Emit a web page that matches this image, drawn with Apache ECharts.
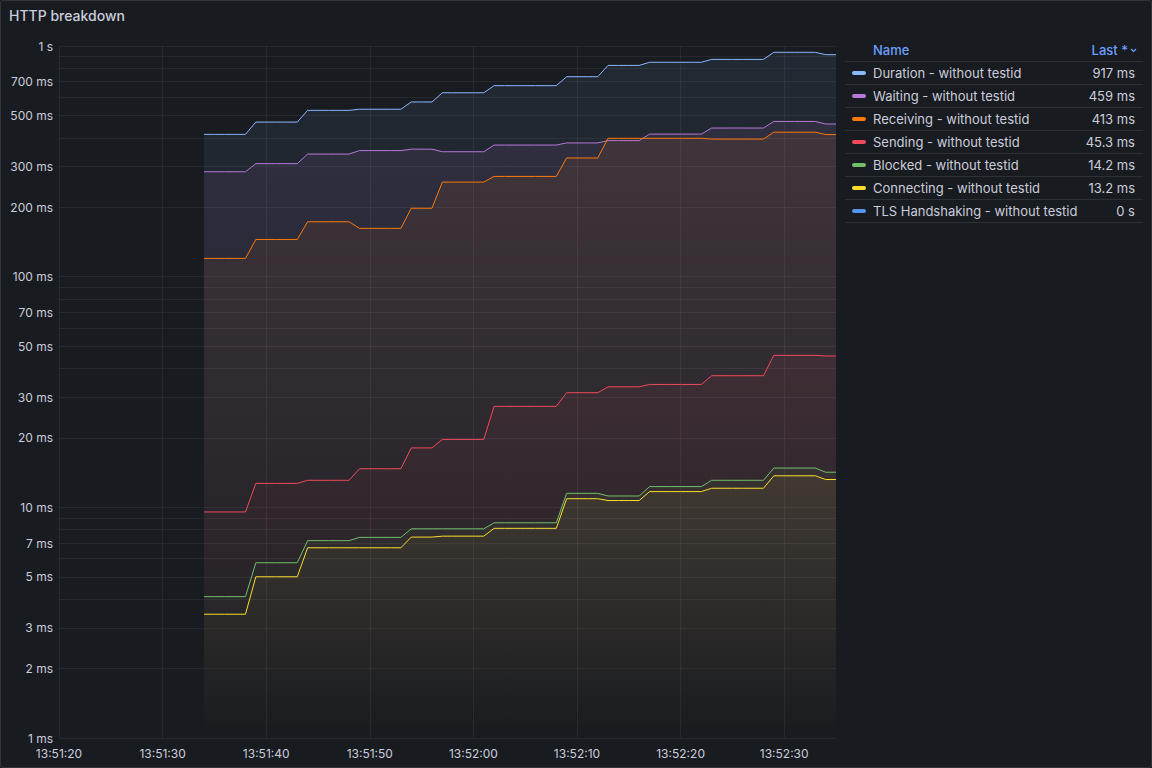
<!DOCTYPE html>
<html>
<head>
<meta charset="utf-8">
<script src="https://cdn.jsdelivr.net/npm/echarts@6/dist/echarts.min.js"></script>
<style>
html,body{margin:0;padding:0;background:#111217;}
#c{width:1152px;height:768px;}
</style>
</head>
<body>
<div id="c"></div>
<script>
// ---------- data ----------
const times = [
  '13:51:34','13:51:35','13:51:36','13:51:37','13:51:38','13:51:39','13:51:40','13:51:41','13:51:42','13:51:43',
  '13:51:44','13:51:45','13:51:46','13:51:47','13:51:48','13:51:49','13:51:50','13:51:51','13:51:52','13:51:53',
  '13:51:54','13:51:55','13:51:56','13:51:57','13:51:58','13:51:59','13:52:00','13:52:01','13:52:02','13:52:03',
  '13:52:04','13:52:05','13:52:06','13:52:07','13:52:08','13:52:09','13:52:10','13:52:11','13:52:12','13:52:13',
  '13:52:14','13:52:15','13:52:16','13:52:17','13:52:18','13:52:19','13:52:20','13:52:21','13:52:22','13:52:23',
  '13:52:24','13:52:25','13:52:26','13:52:27','13:52:28','13:52:29','13:52:30','13:52:31','13:52:32','13:52:33',
  '13:52:34','13:52:35'
];
const seriesNames = [
  'Duration - without testid','Waiting - without testid','Receiving - without testid',
  'Sending - without testid','Blocked - without testid','Connecting - without testid',
  'TLS Handshaking - without testid'
];
// values in ms
const durationValues = [
  414,414,414,414,414, 468,468,468,468,468, 526,526,526,526,526, 532,532,532,532,532,
  572,572,572, 627,627,627,627,627, 673,673,673,673,673,673,673, 736,736,736,736,
  824,824,824,824, 850,850,850,850,850,850, 875,875,875,875,875,875, 939,939,939,939,939, 917,917
];
const waitingValues = [
  285,285,285,285,285, 309,309,309,309,309, 340,340,340,340,340, 352,352,352,352,352,
  357,357,357, 348,348,348,348,348, 372,372,372,372,372,372,372, 380,380,380,380,
  389,389,389,389, 415,415,415,415,415,415, 441,441,441,441,441,441, 471,471,471,471,471, 459,459
];
const receivingValues = [
  120,120,120,120,120, 145,145,145,145,145, 173,173,173,173,173, 162,162,162,162,162,
  198,198,198, 257,257,257,257,257, 272,272,272,272,272,272,272, 327,327,327,327,
  398,398,398,398, 398,398,398,398,398,398, 395,395,395,395,395,395, 423,423,423,423,423, 413,413
];
const sendingValues = [
  9.55,9.55,9.55,9.55,9.55, 12.7,12.7,12.7,12.7,12.7, 13.1,13.1,13.1,13.1,13.1, 14.7,14.7,14.7,14.7,14.7,
  18.1,18.1,18.1, 19.7,19.7,19.7,19.7,19.7, 27.4,27.4,27.4,27.4,27.4,27.4,27.4, 31.4,31.4,31.4,31.4,
  33.3,33.3,33.3,33.3, 34.1,34.1,34.1,34.1,34.1,34.1, 37.2,37.2,37.2,37.2,37.2,37.2, 45.6,45.6,45.6,45.6,45.6, 45.3,45.3
];
const blockedValues = [
  4.10,4.10,4.10,4.10,4.10, 5.75,5.75,5.75,5.75,5.75, 7.17,7.17,7.17,7.17,7.17, 7.41,7.41,7.41,7.41,7.41,
  8.07,8.07,8.07, 8.07,8.07,8.07,8.07,8.07, 8.57,8.57,8.57,8.57,8.57,8.57,8.57, 11.5,11.5,11.5,11.5,
  11.2,11.2,11.2,11.2, 12.3,12.3,12.3,12.3,12.3,12.3, 13.1,13.1,13.1,13.1,13.1,13.1, 14.8,14.8,14.8,14.8,14.8, 14.2,14.2
];
const connectingValues = [
  3.44,3.44,3.44,3.44,3.44, 5.00,5.00,5.00,5.00,5.00, 6.68,6.68,6.68,6.68,6.68, 6.68,6.68,6.68,6.68,6.68,
  7.43,7.43,7.43, 7.50,7.50,7.50,7.50,7.50, 8.11,8.11,8.11,8.11,8.11,8.11,8.11, 10.9,10.9,10.9,10.9,
  10.7,10.7,10.7,10.7, 11.7,11.7,11.7,11.7,11.7,11.7, 12.1,12.1,12.1,12.1,12.1,12.1, 13.7,13.7,13.7,13.7,13.7, 13.2,13.2
];
const tlsValues = [
  0,0,0,0,0, 0,0,0,0,0, 0,0,0,0,0, 0,0,0,0,0, 0,0,0, 0,0,0,0,0, 0,0,0,0,0,0,0, 0,0,0,0,
  0,0,0,0, 0,0,0,0,0,0, 0,0,0,0,0,0, 0,0,0,0,0, 0,0
];
const xRange = ['13:51:20','13:52:35'];
const xTickLabels = ['13:51:20','13:51:30','13:51:40','13:51:50','13:52:00','13:52:10','13:52:20','13:52:30'];
const yRange = [1, 1000];
const yLabelValues = [1,2,3,5,7,10,20,30,50,70,100,200,300,500,700,1000];
const yGridValues = [1,2,3,4,5,6,7,8,9,10,20,30,40,50,60,70,80,90,100,200,300,400,500,600,700,800,900,1000];
const legendHeader = ['Name','Last *'];
const panelTitle = 'HTTP breakdown';

// ---------- styles ----------
const seriesColors = ['#8ab8ff','#b877d9','#ff780a','#f2495c','#73bf69','#fade2a','#5794f2'];
const fillAlpha = [0.13,0.13,0.12,0.1,0.08,0.07,0.1];
const allValues = [durationValues,waitingValues,receivingValues,sendingValues,blockedValues,connectingValues,tlsValues];
const textColor = '#ccccdc';
const gridColor = 'rgba(204,204,220,0.08)';
const FONT = 'Inter, "Noto Sans", sans-serif';

function toSec(s){const p=s.split(':').map(Number);return p[0]*3600+p[1]*60+p[2];}
function pad(n){return (n<10?'0':'')+n;}
function secToStr(v){v=Math.round(v);return pad(Math.floor(v/3600))+':'+pad(Math.floor(v%3600/60))+':'+pad(v%60);}
function rgba(hex,a){const n=parseInt(hex.slice(1),16);return 'rgba('+(n>>16&255)+','+(n>>8&255)+','+(n&255)+','+a+')';}
function fmtMs(v){
  if(v===0) return '0 s';
  if(v>=1000) return (+(v/1000).toPrecision(3))+' s';
  return (+v.toPrecision(3))+' ms';
}
function axisFmt(v){
  if(v>=1000) return (v/1000)+' s';
  return v+' ms';
}

const chart = echarts.init(document.getElementById('c'), null, {renderer:'svg', width:1152, height:768});

// a log axis cannot show zero values, so only series with positive values get a line
const series = [];
allValues.forEach((vals,i)=>{
  if(!vals.some(v=>v>0)) return;
  series.push({
    name: seriesNames[i],
    type: 'line',
    xAxisIndex: 0,
    yAxisIndex: 0,
    showSymbol: false,
    symbol: 'none',
    clip: false,
    data: times.map((t,k)=>[toSec(t), vals[k]]),
    lineStyle: {color: seriesColors[i], width: 1},
    itemStyle: {color: seriesColors[i]},
    areaStyle: {
      origin: 'start',
      color: new echarts.graphic.LinearGradient(0,0,0,1,[
        {offset:0,color:rgba(seriesColors[i],fillAlpha[i])},
        {offset:1,color:rgba(seriesColors[i],0)}
      ])
    },
    emphasis: {disabled: true},
    silent: true,
    z: 2 + i
  });
});

// legend table built with graphics
const graphics = [];
graphics.push({type:'rect', shape:{x:0.5,y:0.5,width:1151,height:767,r:2}, style:{fill:'none',stroke:'rgba(204,204,220,0.15)',lineWidth:1}, silent:true});
const tblLeft = 845, tblRight = 1143;
graphics.push({type:'text', style:{text:legendHeader[0], x:873, y:50, fill:'#6e9fff', font:'500 13px '+FONT, verticalAlign:'middle', textAlign:'left'}});
graphics.push({type:'text', style:{text:legendHeader[1], x:1128, y:50, fill:'#6e9fff', font:'500 13px '+FONT, verticalAlign:'middle', textAlign:'right'}});
graphics.push({type:'polyline', shape:{points:[[1131,49],[1133.5,51.5],[1136,49]]}, style:{stroke:'#6e9fff', lineWidth:1.2, fill:'none'}});
for(let r=0;r<=seriesNames.length;r++){
  const y = 61.5 + 23*r;
  graphics.push({type:'line', shape:{x1:tblLeft,y1:y,x2:tblRight,y2:y}, style:{stroke:'rgba(204,204,220,0.12)',lineWidth:1}});
}
seriesNames.forEach((nm,i)=>{
  const cy = 73 + 23*i;
  graphics.push({type:'rect', shape:{x:852,y:cy-2,width:14,height:4,r:2}, style:{fill:seriesColors[i]}});
  graphics.push({type:'text', style:{text:nm, x:873, y:cy, fill:textColor, font:'13px '+FONT, verticalAlign:'middle', textAlign:'left'}});
  const vals = allValues[i];
  graphics.push({type:'text', style:{text:fmtMs(vals[vals.length-1]), x:1135, y:cy, fill:textColor, font:'13px '+FONT, verticalAlign:'middle', textAlign:'right'}});
});

const option = {
  animation: false,
  backgroundColor: '#181b1f',
  title: {
    text: panelTitle, left: 9, top: 8, padding: 0,
    textStyle: {color: textColor, fontSize: 14, fontWeight: 500, fontFamily: FONT}
  },
  grid: {left: 59, right: 316, top: 46, bottom: 30, containLabel: false},
  xAxis: {
    type: 'value',
    min: toSec(xRange[0]), max: toSec(xRange[1]),
    axisLine: {show: false},
    axisTick: {show: false, customValues: xTickLabels.map(toSec)},
    axisLabel: {customValues: xTickLabels.map(toSec), formatter: v => secToStr(v), color: textColor, fontSize: 12, fontFamily: FONT, margin: 9},
    splitLine: {show: true, lineStyle: {color: gridColor, width: 1}}
  },
  yAxis: [
    {
      type: 'log', logBase: 10, min: yRange[0], max: yRange[1],
      axisLine: {show: false}, axisTick: {show: false}, axisLabel: {show: false}, splitLine: {show: false}
    },
    {
      type: 'value', min: Math.log10(yRange[0]), max: Math.log10(yRange[1]), position: 'left',
      axisLine: {show: false},
      axisTick: {show: false, customValues: yGridValues.map(Math.log10)},
      axisLabel: {customValues: yLabelValues.map(Math.log10), formatter: v => axisFmt(Math.round(Math.pow(10, v))), color: textColor, fontSize: 12, fontFamily: FONT, margin: 6},
      splitLine: {show: true, lineStyle: {color: gridColor, width: 1}}
    }
  ],
  series: series,
  graphic: graphics
};
chart.setOption(option);
</script>
</body>
</html>
